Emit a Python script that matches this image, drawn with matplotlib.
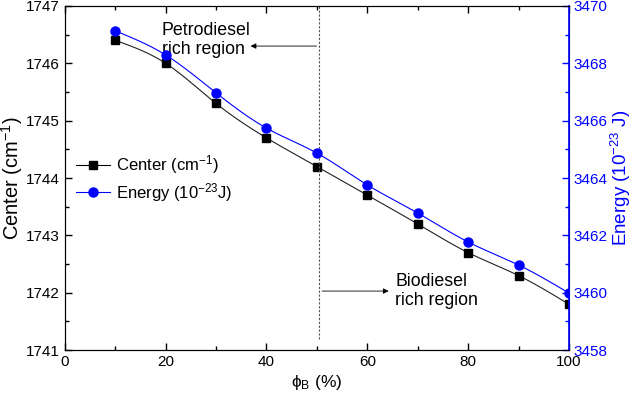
import matplotlib
matplotlib.use("Agg")
import matplotlib.pyplot as plt
import numpy as np

plt.rcParams['font.family'] = ['Liberation Sans', 'DejaVu Sans']
plt.rcParams['mathtext.fontset'] = 'custom'
plt.rcParams['mathtext.rm'] = 'Liberation Sans'
plt.rcParams['mathtext.it'] = 'Liberation Sans:italic'

# data
phi_b = [10, 20, 30, 40, 50, 60, 70, 80, 90, 100]
center = [1746.4, 1746.0, 1745.3, 1744.7, 1744.2, 1743.7, 1743.2, 1742.7, 1742.3, 1741.8]
energy = [3469.13, 3468.29, 3466.97, 3465.74, 3464.87, 3463.76, 3462.78, 3461.77, 3460.97, 3459.99]


# natural cubic spline, just for the smooth connecting line
def spline(x, y, n=300):
    x = np.asarray(x, float)
    y = np.asarray(y, float)
    k = len(x)
    h = np.diff(x)
    A = np.zeros((k, k))
    b = np.zeros(k)
    A[0, 0] = A[-1, -1] = 1
    for i in range(1, k - 1):
        A[i, i - 1] = h[i - 1]
        A[i, i] = 2 * (h[i - 1] + h[i])
        A[i, i + 1] = h[i]
        b[i] = 6 * ((y[i + 1] - y[i]) / h[i] - (y[i] - y[i - 1]) / h[i - 1])
    m = np.linalg.solve(A, b)
    xs = np.linspace(x[0], x[-1], n)
    idx = np.clip(np.searchsorted(x, xs) - 1, 0, k - 2)
    x0, x1 = x[idx], x[idx + 1]
    hh = x1 - x0
    t0, t1 = x1 - xs, xs - x0
    ys = (m[idx] * t0**3 + m[idx + 1] * t1**3) / (6 * hh) \
        + (y[idx] / hh - m[idx] * hh / 6) * t0 + (y[idx + 1] / hh - m[idx + 1] * hh / 6) * t1
    return xs, ys


fig = plt.figure(figsize=(6.35, 3.93), dpi=100)
ax = fig.add_axes([0.102, 0.109, 0.794, 0.876])
ax2 = ax.twinx()

blue = '#0000ff'

xs, ys = spline(phi_b, center)
ax.plot(xs, ys, color='#222222', lw=0.8)
ax.plot(phi_b, center, 's', color='black', ms=6, ls='none')
xe, ye = spline(phi_b, energy)
ax2.plot(xe, ye, color=blue, lw=0.8)
ax2.plot(phi_b, energy, 'o', color=blue, ms=6.5, ls='none')

# legend handles
h1, = ax.plot([], [], 's-', color='black', ms=6, lw=0.8)
h2, = ax.plot([], [], 'o-', color=blue, ms=6.5, lw=0.8)
ax.legend([h1, h2], ['Center (cm$^{-1}$)', 'Energy (10$^{-23}$J)'], loc='upper left',
          bbox_to_anchor=(0.0, 0.605), frameon=False, fontsize=12, handlelength=2.0,
          handletextpad=0.4, borderaxespad=0.3, labelspacing=0.25)

ax.set_xlim(0, 100)
ax.set_ylim(1741, 1747)
ax2.set_ylim(3458, 3470)
ax.set_xticks([0, 20, 40, 60, 80, 100])
ax.set_xticks(np.arange(10, 100, 20), minor=True)
ax.set_yticks(np.arange(1741, 1748, 1))
ax.set_yticks(np.arange(1741.5, 1747, 1), minor=True)
ax2.set_yticks(np.arange(3458, 3471, 2))
ax2.set_yticks(np.arange(3459, 3470, 2), minor=True)

ax.tick_params(which='both', direction='in', top=True, right=False, labelsize=11, width=1)
ax.tick_params(which='major', length=5)
ax.tick_params(which='minor', length=3)
ax2.tick_params(which='both', direction='in', colors=blue, labelsize=11, width=1)
ax2.tick_params(which='major', length=5)
ax2.tick_params(which='minor', length=3)
ax2.spines['right'].set_color(blue)
ax2.spines['right'].set_linewidth(1.2)

ax.set_xlabel('ϕ$_\\mathrm{B}$ (%)', fontsize=12.5, labelpad=3)
ax.set_ylabel('Center (cm$^{-1}$)', fontsize=14.5, labelpad=0.5)
ax2.set_ylabel('Energy (10$^{-23}$ J)', fontsize=13.5, color=blue, labelpad=1)

# boundary between regions
ax.plot([50.5, 50.5], [1741.2, 1747], ls=(0, (2, 1.5)), color='#555555', lw=0.8)

ax.annotate('', xy=(36.3, 1746.3), xytext=(50.5, 1746.3),
            arrowprops=dict(arrowstyle='-|>', color='black', lw=0.6, mutation_scale=8))
ax.text(19.2, 1746.4, 'Petrodiesel\nrich region', fontsize=12.8, va='center', ha='left',
        linespacing=1.15)
ax.annotate('', xy=(64.8, 1742.03), xytext=(50.5, 1742.03),
            arrowprops=dict(arrowstyle='-|>', color='black', lw=0.6, mutation_scale=8))
ax.text(65.5, 1742.03, 'Biodiesel\nrich region', fontsize=12.8, va='center', ha='left',
        linespacing=1.15)

fig.savefig('out.png', dpi=100)
